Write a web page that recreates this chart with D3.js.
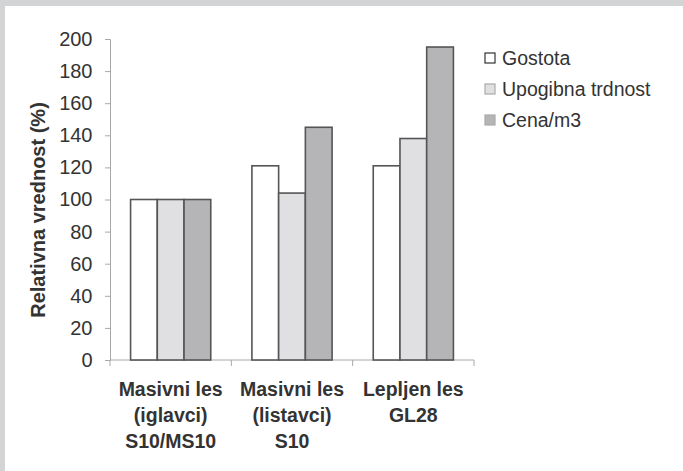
<!DOCTYPE html>
<html>
<head>
<meta charset="utf-8">
<script src="https://cdn.jsdelivr.net/npm/d3@7"></script>
<style>
  body { margin: 0; background: #fff; }
  svg { display: block; font-family: "Liberation Sans", Arial, sans-serif; }
</style>
</head>
<body>
<svg id="chart" width="683" height="471"></svg>
<script>
const categories = [
    ["Masivni les", "(iglavci)", "S10/MS10"],
    ["Masivni les", "(listavci)", "S10"],
    ["Lepljen les", "GL28"]
];
const seriesNames = ["Gostota", "Upogibna trdnost", "Cena/m3"];
const gostota = [100, 121, 121];
const upogibna = [100, 104, 138];
const cena = [100, 145, 195];
const yTicks = [0, 20, 40, 60, 80, 100, 120, 140, 160, 180, 200];

const seriesValues = [gostota, upogibna, cena];
const fills = ["#ffffff", "#e0e0e2", "#b5b5b7"];

const svg = d3.select("#chart");

// grey frame on top and left
svg.append("rect").attr("x", 0).attr("y", 0).attr("width", 683).attr("height", 471).attr("fill", "#d3d4d6");
svg.append("rect").attr("x", 5).attr("y", 6).attr("width", 678).attr("height", 465).attr("fill", "#ffffff");

const plotLeft = 110, plotRight = 474, plotTop = 39, plotBottom = 360;

const x = d3.scaleBand()
    .domain(d3.range(categories.length))
    .range([plotLeft, plotRight])
    .paddingInner(0)
    .paddingOuter(0);

const xInner = d3.scaleBand()
    .domain(d3.range(seriesNames.length))
    .range([0, x.bandwidth()])
    .paddingOuter(0.77)
    .paddingInner(0);

const y = d3.scaleLinear().domain([0, 200]).range([plotBottom, plotTop]);

// y axis
const yAxis = svg.append("g")
    .attr("transform", `translate(${plotLeft},0)`)
    .call(d3.axisLeft(y).tickValues(yTicks).tickSize(5).tickPadding(12.5));
yAxis.select(".domain").attr("stroke", "#a8a8a8");
yAxis.selectAll(".tick line").attr("stroke", "#a8a8a8");
yAxis.selectAll(".tick text")
    .attr("fill", "#333")
    .style("font-size", "20px");

// x axis line and category ticks
const xAxisG = svg.append("g");
xAxisG.append("line")
    .attr("x1", plotLeft).attr("x2", plotRight)
    .attr("y1", plotBottom).attr("y2", plotBottom)
    .attr("stroke", "#a8a8a8");
xAxisG.selectAll(".cat-tick")
    .data(d3.range(categories.length + 1))
    .enter()
    .append("line")
    .attr("x1", i => plotLeft + i * x.step())
    .attr("x2", i => plotLeft + i * x.step())
    .attr("y1", plotBottom)
    .attr("y2", plotBottom + 6)
    .attr("stroke", "#a8a8a8");

// bars
const groups = svg.selectAll(".group")
    .data(categories)
    .enter()
    .append("g")
    .attr("transform", (d, i) => `translate(${x(i)},0)`);

groups.selectAll("rect")
    .data((d, i) => seriesValues.map((values, s) => ({ s: s, v: values[i] })))
    .enter()
    .append("rect")
    .attr("x", d => xInner(d.s))
    .attr("width", xInner.bandwidth())
    .attr("y", d => y(d.v))
    .attr("height", d => plotBottom - y(d.v))
    .attr("fill", d => fills[d.s])
    .attr("stroke", "#555")
    .attr("stroke-width", 1.6);

// category labels
groups.each(function (lines) {
    const t = d3.select(this).append("text")
        .attr("text-anchor", "middle")
        .attr("fill", "#333")
        .style("font-size", "19.5px")
        .style("font-weight", "bold");
    lines.forEach((line, k) => {
        t.append("tspan")
            .attr("x", x.bandwidth() / 2)
            .attr("y", 396 + k * 26)
            .text(line);
    });
});

// y axis title
svg.append("text")
    .attr("transform", "translate(45,210) rotate(-90)")
    .attr("text-anchor", "middle")
    .attr("fill", "#333")
    .style("font-size", "20px")
    .style("font-weight", "bold")
    .text("Relativna vrednost (%)");

// legend
const legend = svg.selectAll(".legend")
    .data(seriesNames)
    .enter()
    .append("g")
    .attr("transform", (d, i) => `translate(485,${53 + i * 31})`);

legend.append("rect")
    .attr("width", 10)
    .attr("height", 10)
    .attr("fill", (d, i) => fills[i])
    .attr("stroke", (d, i) => i === 0 ? "#333" : "#aaa")
    .attr("stroke-width", 1.2);

legend.append("text")
    .attr("x", 17)
    .attr("y", 11.5)
    .attr("fill", "#333")
    .style("font-size", "19.5px")
    .text(d => d);
</script>
</body>
</html>
